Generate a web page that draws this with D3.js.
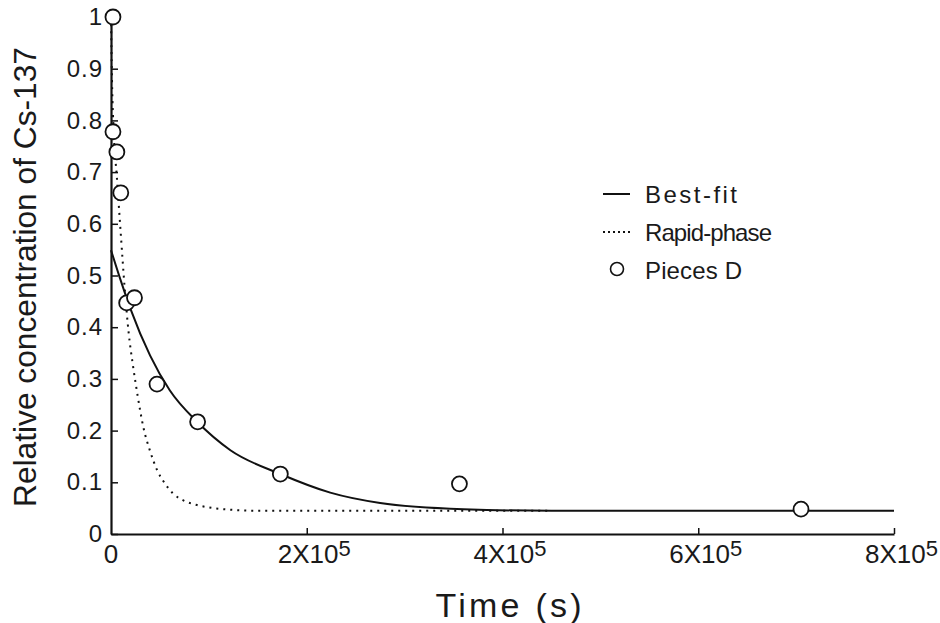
<!DOCTYPE html>
<html>
<head>
<meta charset="utf-8">
<script src="https://cdn.jsdelivr.net/npm/d3@7"></script>
<style>
  body { margin: 0; background: #fff; }
  svg { display: block; }
  text { font-family: "Liberation Sans", Arial, sans-serif; fill: #1a1a1a; }
</style>
</head>
<body>
<div id="chart"></div>
<script>
// Values (time in seconds)
const pieceTime = [2e3, 2e3, 6e3, 1.0e4, 1.6e4, 2.4e4, 4.7e4, 8.85e4, 1.73e5, 3.56e5, 7.05e5];
const pieceConc = [1.0, 0.778, 0.739, 0.66, 0.447, 0.457, 0.29, 0.217, 0.116, 0.097, 0.048];

const bestTime = [0, 1e4, 2e4, 4e4, 6e4, 8.8e4, 1.22e5, 1.73e5, 2.24e5, 2.75e5, 3.6e5, 4.5e5, 8e5];
const bestConc = [0.549, 0.49, 0.435, 0.345, 0.278, 0.217, 0.162, 0.116, 0.08, 0.06, 0.048, 0.045, 0.045];

const rapidTime = [0, 1e3, 3e3, 6e3, 1e4, 1.4e4, 1.8e4, 2.25e4, 2.7e4, 3.3e4, 4e4, 4.7e4, 5.5e4,
                   6.3e4, 7.5e4, 8.8e4, 1.05e5, 1.22e5, 1.5e5, 2e5, 3e5, 4.5e5];
const rapidConc = [1.0, 0.88, 0.77, 0.69, 0.58, 0.475, 0.39, 0.325, 0.27, 0.207, 0.16, 0.124, 0.098,
                   0.079, 0.064, 0.056, 0.05, 0.047, 0.045, 0.045, 0.045, 0.045];

const xTicks = [0, 2e5, 4e5, 6e5, 8e5];
const xTickMantissa = ["0", "2", "4", "6", "8"];
const yTicks = [0, 0.1, 0.2, 0.3, 0.4, 0.5, 0.6, 0.7, 0.8, 0.9, 1.0];
const yTickLabels = ["0", "0.1", "0.2", "0.3", "0.4", "0.5", "0.6", "0.7", "0.8", "0.9", "1"];

const legendNames = ["Best-fit", "Rapid-phase", "Pieces D"];

const W = 940, H = 623;
const margin = {left: 111, top: 17, right: 46, bottom: 89};

const svg = d3.select("#chart").append("svg")
    .attr("width", W)
    .attr("height", H);

const x = d3.scaleLinear().domain([0, 8e5]).range([margin.left, W - margin.right]);
const y = d3.scaleLinear().domain([0, 1]).range([H - margin.bottom, margin.top]);

// axes, ticks point inward
const xAxis = svg.append("g")
    .attr("transform", "translate(0," + y(0) + ")")
    .call(d3.axisBottom(x).tickValues(xTicks).tickSizeInner(-6).tickSizeOuter(0).tickFormat(""));

const yAxis = svg.append("g")
    .attr("transform", "translate(" + x(0) + ",0)")
    .call(d3.axisLeft(y).tickValues(yTicks).tickSizeInner(-7).tickSizeOuter(0)
        .tickPadding(8).tickFormat(function(d, i) { return yTickLabels[i]; }));

[xAxis, yAxis].forEach(function(g) {
    g.select(".domain").attr("stroke", "#111").attr("stroke-width", 2.2);
    g.selectAll(".tick line").attr("stroke", "#111").attr("stroke-width", 1.5);
});
xAxis.selectAll(".tick").filter(function(d) { return d === 0; }).select("line").remove();

yAxis.selectAll(".tick text")
    .attr("font-size", 24)
    .attr("letter-spacing", 1)
    .attr("fill", "#1a1a1a")
    .attr("font-family", "Liberation Sans, Arial, sans-serif");

// x tick labels with superscript exponent
const xl = svg.append("g").selectAll("text")
    .data(xTicks)
    .enter()
    .append("text")
    .attr("y", y(0) + 29)
    .attr("font-size", 26);

xl.each(function(d, i) {
    const t = d3.select(this);
    if (d === 0) {
        t.attr("x", x(d)).attr("text-anchor", "middle").text("0");
    } else {
        t.attr("x", x(d) - 29);
        t.append("tspan").text(xTickMantissa[i] + "X10");
        t.append("tspan").attr("dy", -7).attr("font-size", 22).text("5");
    }
});

// axis titles
svg.append("text")
    .attr("x", (x(0) + x(8e5)) / 2 + 6)
    .attr("y", 617)
    .attr("text-anchor", "middle")
    .attr("font-size", 34)
    .attr("textLength", 146)
    .attr("lengthAdjust", "spacing")
    .text("Time (s)");

svg.append("text")
    .attr("transform", "translate(36, 277) rotate(-90)")
    .attr("text-anchor", "middle")
    .attr("font-size", 32)
    .attr("textLength", 460)
    .attr("lengthAdjust", "spacingAndGlyphs")
    .text("Relative concentration of Cs-137");

// curves
const line = d3.line()
    .x(function(d) { return x(d[0]); })
    .y(function(d) { return y(d[1]); })
    .curve(d3.curveMonotoneX);

svg.append("path")
    .datum(d3.zip(rapidTime, rapidConc))
    .attr("d", line)
    .attr("fill", "none")
    .attr("stroke", "#111")
    .attr("stroke-width", 2)
    .attr("stroke-dasharray", "2,5");

svg.append("path")
    .datum(d3.zip(bestTime, bestConc))
    .attr("d", line)
    .attr("fill", "none")
    .attr("stroke", "#111")
    .attr("stroke-width", 2);

svg.append("g").selectAll("circle")
    .data(d3.zip(pieceTime, pieceConc))
    .enter()
    .append("circle")
    .attr("cx", function(d) { return x(d[0]); })
    .attr("cy", function(d) { return y(d[1]); })
    .attr("r", 7.5)
    .attr("fill", "#fff")
    .attr("stroke", "#111")
    .attr("stroke-width", 1.8);

// legend
const legend = svg.append("g").attr("transform", "translate(603, 194)");
const rowGap = 38;
const textLens = [92, 127, 97];

legend.append("line")
    .attr("x1", 0).attr("x2", 27).attr("y1", 0).attr("y2", 0)
    .attr("stroke", "#111").attr("stroke-width", 2);
legend.append("line")
    .attr("x1", 0).attr("x2", 27).attr("y1", rowGap).attr("y2", rowGap)
    .attr("stroke", "#111").attr("stroke-width", 2).attr("stroke-dasharray", "2,3");
legend.append("circle")
    .attr("cx", 14).attr("cy", rowGap * 2 - 1).attr("r", 6.5)
    .attr("fill", "#fff").attr("stroke", "#111").attr("stroke-width", 1.6);

legend.selectAll("text.leg")
    .data(legendNames)
    .enter()
    .append("text")
    .attr("class", "leg")
    .attr("x", 42)
    .attr("y", function(d, i) { return i * rowGap + 9; })
    .attr("font-size", 24)
    .attr("textLength", function(d, i) { return textLens[i]; })
    .attr("lengthAdjust", "spacing")
    .text(function(d) { return d; });
</script>
</body>
</html>
